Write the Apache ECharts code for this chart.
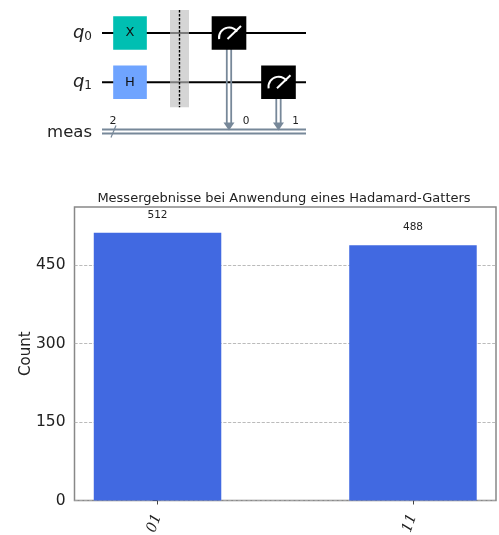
<!DOCTYPE html>
<html>
<head>
<meta charset="utf-8">
<style>
  html, body { margin: 0; padding: 0; background: #fff; }
  #chart { width: 499px; height: 535px; filter: blur(0.45px); }
</style>
<script src="https://cdn.jsdelivr.net/npm/echarts@6/dist/echarts.min.js"></script>
</head>
<body>
<div id="chart"></div>
<script>
// histogram
var categories = ["01", "11"];
var categoryPos = [0, 1];
var counts = [512, 488];
var yTicks = [0, 150, 300, 450];

// circuit, in column / row units
var quantumWires = [["q", 0], ["q", 1]];
var wireLabels = [["q", "0", 0], ["q", "1", 1]];
var gates = [["X", 0, 0, "#00bfb2"], ["H", 0, 1, "#6fa4ff"]];
var barrierCol = 1;
var measures = [[2, 0, 0], [3, 1, 1]]; // col, qubit row, classical bit
var classicalRow = 2;

var SLATE = "#778899";
var font = "DejaVu Sans";

function rectAt(api, col, row, w, h) {
  var c = api.coord([col, row]);
  var s = api.size([1, 1]);
  return { x: c[0] - s[0] * w / 2, y: c[1] - s[1] * h / 2, width: s[0] * w, height: s[1] * h };
}

function renderCircuit(params, api) {
  var children = [];
  var xMin = -0.566, xMax = 3.556;

  // wires
  quantumWires.forEach(function (w) {
    var a = api.coord([xMin, w[1]]), b = api.coord([xMax, w[1]]);
    children.push({ type: "line", shape: { x1: a[0], y1: a[1], x2: b[0], y2: b[1] }, style: { stroke: "#000", lineWidth: 2 } });
  });
  var ca = api.coord([xMin, classicalRow]), cb = api.coord([xMax, classicalRow]);
  [-2, 2].forEach(function (d) {
    children.push({ type: "line", shape: { x1: ca[0], y1: ca[1] + d, x2: cb[0], y2: cb[1] + d }, style: { stroke: SLATE, lineWidth: 1.8 } });
  });
  // bus slash and size
  children.push({ type: "line", shape: { x1: ca[0] + 9, y1: ca[1] + 6, x2: ca[0] + 14, y2: ca[1] - 6 }, style: { stroke: SLATE, lineWidth: 1.2 } });
  children.push({ type: "text", style: { x: ca[0] + 11, y: ca[1] - 10, text: "2", font: "11px '" + font + "'", fill: "#222", align: "center", verticalAlign: "middle" } });
  children.push({ type: "text", style: { x: ca[0] - 10, y: ca[1] + 1, text: "meas", font: "16.5px '" + font + "'", fill: "#222", align: "right", verticalAlign: "middle" } });

  // wire labels
  wireLabels.forEach(function (l) {
    var p = api.coord([xMin, l[2]]);
    children.push({
      type: "text",
      style: {
        x: p[0] - 10, y: p[1], align: "right", verticalAlign: "middle",
        text: "{a|" + l[0] + "}{b|" + l[1] + "}",
        rich: {
          a: { font: "italic 18px '" + font + "'", fill: "#222" },
          b: { font: "12px '" + font + "'", fill: "#222", padding: [7, 0, 0, 0] }
        }
      }
    });
  });

  // gates
  gates.forEach(function (g) {
    var r = rectAt(api, g[1], g[2], 0.68, 0.68);
    children.push({ type: "rect", shape: r, style: { fill: g[3] } });
    children.push({ type: "text", style: { x: r.x + r.width / 2, y: r.y + r.height / 2, text: g[0], font: "13px '" + font + "'", fill: "#111", align: "center", verticalAlign: "middle" } });
  });

  // barrier
  var b0 = api.coord([barrierCol, 0]), b1 = api.coord([barrierCol, 1]);
  children.push({ type: "rect", shape: { x: b0[0] - 9.5, y: b0[1] - 23, width: 19, height: b1[1] - b0[1] + 48 }, style: { fill: "rgba(190,190,190,0.65)" } });
  children.push({ type: "line", shape: { x1: b0[0], y1: b0[1] - 23, x2: b0[0], y2: b1[1] + 25 }, style: { stroke: "#000", lineWidth: 1.4, lineDash: [2.5, 1.5] } });

  // measurements
  measures.forEach(function (m) {
    var r = rectAt(api, m[0], m[1], 0.7, 0.68);
    var c = api.coord([m[0], m[1]]);
    var t = api.coord([m[0], classicalRow]);
    [-2.2, 2.2].forEach(function (d) {
      children.push({ type: "line", shape: { x1: c[0] + d, y1: c[1], x2: c[0] + d, y2: t[1] - 8 }, style: { stroke: SLATE, lineWidth: 1.8 } });
    });
    children.push({ type: "polygon", shape: { points: [[c[0] - 5.5, t[1] - 9], [c[0] + 5.5, t[1] - 9], [c[0], t[1] - 1]] }, style: { fill: SLATE } });
    children.push({ type: "rect", shape: r, style: { fill: "#000" } });
    children.push({ type: "arc", shape: { cx: c[0], cy: c[1] + 4.5, r: 10, startAngle: Math.PI * 0.95, endAngle: Math.PI * 1.8 }, style: { stroke: "#fff", fill: null, lineWidth: 2 } });
    children.push({ type: "line", shape: { x1: c[0] - 1.5, y1: c[1] + 6, x2: c[0] + 12, y2: c[1] - 7 }, style: { stroke: "#fff", lineWidth: 2 } });
    children.push({ type: "text", style: { x: t[0] + 17, y: t[1] - 10, text: String(m[2]), font: "10.5px '" + font + "'", fill: "#222", align: "center", verticalAlign: "middle" } });
  });

  return { type: "group", children: children };
}

var myChart = echarts.init(document.getElementById("chart"), null, { renderer: "canvas" });

var option = {
  animation: false,
  backgroundColor: "#fff",
  textStyle: { fontFamily: font },
  title: {
    text: "Messergebnisse bei Anwendung eines Hadamard-Gatters",
    left: 279,
    top: 187,
    textAlign: "center",
    textStyle: { fontSize: 13, fontWeight: "normal", color: "#222", fontFamily: font }
  },
  grid: [
    { left: 74.5, top: 207, width: 421.5, height: 293.5, show: true, borderColor: "#888", borderWidth: 1.5, backgroundColor: "transparent", outerBoundsMode: "none" },
    { left: 102, top: 33, width: 204, height: 98.5, outerBoundsMode: "none" }
  ],
  xAxis: [
    {
      type: "value",
      gridIndex: 0,
      min: -0.325,
      max: 1.325,
      splitLine: { show: false },
      axisLine: { show: false },
      axisTick: { show: true, customValues: categoryPos, length: 4, lineStyle: { color: "#444" } },
      axisLabel: {
        customValues: categoryPos,
        rotate: 70,
        margin: 14,
        fontFamily: "DejaVu Serif",
        fontStyle: "italic",
        fontSize: 14.5,
        color: "#222",
        formatter: function (v) { return categories[v]; }
      }
    },
    { type: "value", gridIndex: 1, min: -0.566, max: 3.556, show: false }
  ],
  yAxis: [
    {
      type: "value",
      gridIndex: 0,
      min: 0,
      max: 561,
      name: "Count",
      nameLocation: "middle",
      nameGap: 41,
      nameMoveOverlap: false,
      nameTextStyle: { fontSize: 15, color: "#222", fontFamily: font },
      axisLine: { show: false },
      axisTick: { show: true, customValues: yTicks, length: 5, lineStyle: { color: "#444" } },
      axisLabel: { customValues: yTicks, fontSize: 15.5, color: "#222", margin: 9, fontFamily: font },
      splitLine: { show: true, lineStyle: { color: "#aaa", type: "dashed", width: 0.8 } }
    },
    { type: "value", gridIndex: 1, min: 0, max: 2, inverse: true, show: false }
  ],
  series: [
    {
      type: "bar",
      xAxisIndex: 0,
      yAxisIndex: 0,
      barWidth: 127.5,
      itemStyle: { color: "#4169e1" },
      label: { show: true, position: "top", distance: 12, fontSize: 10.5, color: "#222", fontFamily: font },
      data: counts.map(function (c, i) { return [categoryPos[i], c]; }),
      encode: { x: 0, y: 1 }
    },
    {
      type: "custom",
      xAxisIndex: 1,
      yAxisIndex: 1,
      clip: false,
      silent: true,
      renderItem: renderCircuit,
      data: [[0, 0]]
    }
  ]
};
myChart.setOption(option);
</script>
</body>
</html>
